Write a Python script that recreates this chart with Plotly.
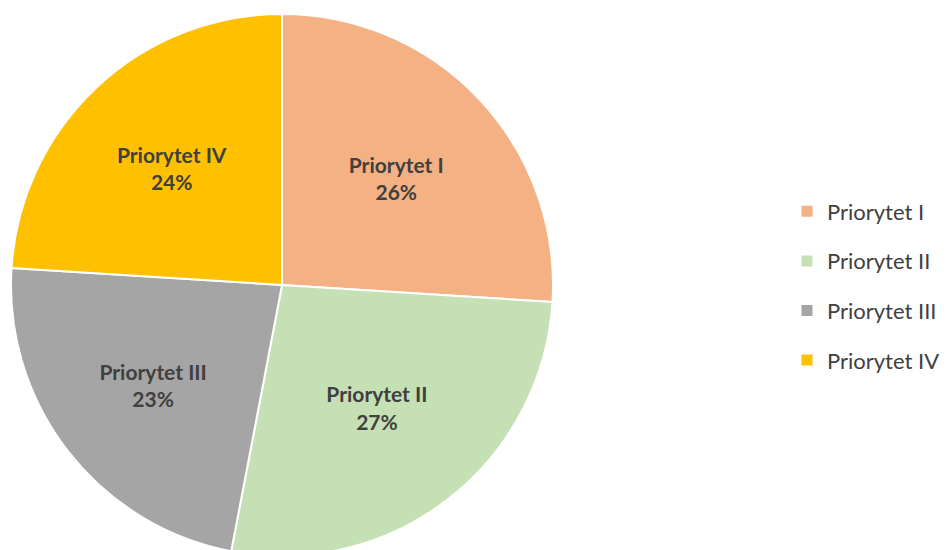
import plotly.graph_objects as go

categories = ["Priorytet I", "Priorytet II", "Priorytet III", "Priorytet IV"]
values = [26, 27, 23, 24]
colors = ["#F4B183", "#C5E0B4", "#A5A5A5", "#FFC000"]

W, H = 951, 550
OFF = 8  # page body margin offset

fig = go.Figure()
fig.add_trace(go.Pie(
    labels=categories,
    values=values,
    sort=False,
    direction="clockwise",
    rotation=0,
    marker=dict(colors=colors, line=dict(color="white", width=2)),
    texttemplate="<b>%{label}</b><br><b>%{percent:.0%}</b>",
    textposition="inside",
    insidetextorientation="horizontal",
    textfont=dict(family="Lato", size=21, color="#404040"),
    showlegend=False,
    domain=dict(x=[(11 - OFF) / W, (553 - OFF) / W],
                y=[1 - (556 - OFF) / H, 1 - (14 - OFF) / H]),
    hoverinfo="label+percent",
))

for cat, col in zip(categories, colors):
    fig.add_trace(go.Scatter(
        x=[None], y=[None], mode="markers", name=cat,
        legendgroup=cat,
        marker=dict(symbol="square", size=11, color=col),
    ))

fig.update_layout(
    width=W, height=H,
    margin=dict(l=0, r=0, t=0, b=0),
    paper_bgcolor="white", plot_bgcolor="white",
    xaxis=dict(visible=False), yaxis=dict(visible=False),
    legend=dict(
        x=(787 - OFF) / W, xanchor="left", y=1 - (286 - OFF) / H, yanchor="middle",
        font=dict(family="Lato", size=22, color="#404040"),
        tracegroupgap=18, itemwidth=30,
    ),
)

fig.write_html("out.html")
